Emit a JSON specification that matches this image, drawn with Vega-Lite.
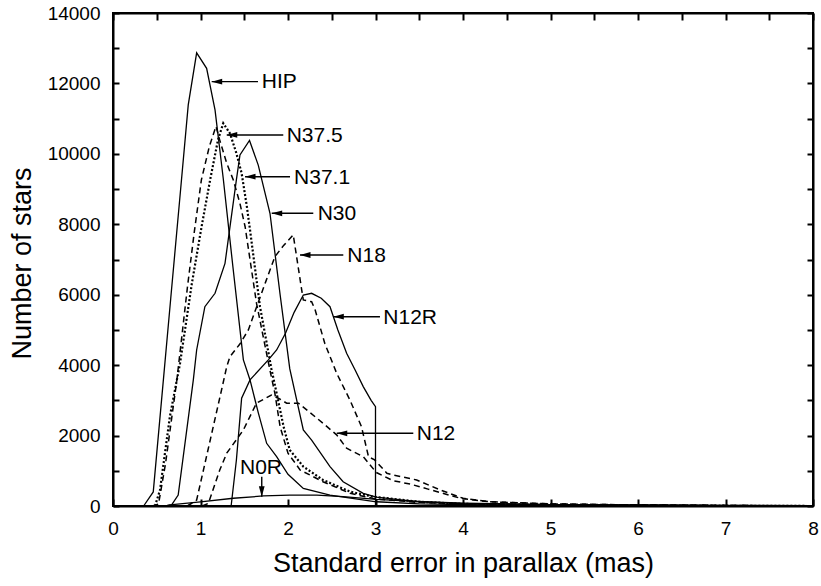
{
  "$schema": "https://vega.github.io/schema/vega-lite/v6.json",
  "width": 700,
  "height": 493,
  "autosize": "none",
  "padding": {"left": 113, "top": 13, "right": 8, "bottom": 80},
  "background": "white",
  "config": {
    "view": {"stroke": "black", "strokeWidth": 2},
    "font": "Liberation Sans"
  },
  "datasets": {
    "curves": [
      {"s":"HIP","x":0.35,"y":0},{"s":"HIP","x":0.46,"y":400},{"s":"HIP","x":0.56,"y":3150},{"s":"HIP","x":0.66,"y":5900},{"s":"HIP","x":0.76,"y":8640},{"s":"HIP","x":0.86,"y":11390},{"s":"HIP","x":0.956,"y":12870},{"s":"HIP","x":1.07,"y":12430},{"s":"HIP","x":1.166,"y":11250},{"s":"HIP","x":1.26,"y":9300},{"s":"HIP","x":1.37,"y":6800},{"s":"HIP","x":1.49,"y":4150},{"s":"HIP","x":1.566,"y":3580},{"s":"HIP","x":1.66,"y":2650},{"s":"HIP","x":1.756,"y":1780},{"s":"HIP","x":1.87,"y":1400},{"s":"HIP","x":2.0,"y":900},{"s":"HIP","x":2.175,"y":500},{"s":"HIP","x":2.48,"y":310},{"s":"HIP","x":3.01,"y":120},{"s":"HIP","x":3.5,"y":60},{"s":"HIP","x":4,"y":40},{"s":"HIP","x":5,"y":20},{"s":"HIP","x":6,"y":15},{"s":"HIP","x":7,"y":8},{"s":"HIP","x":8,"y":0},
      {"s":"N37.5","x":0.45,"y":0},{"s":"N37.5","x":0.52,"y":50},{"s":"N37.5","x":0.6,"y":1200},{"s":"N37.5","x":0.73,"y":3580},{"s":"N37.5","x":0.85,"y":6200},{"s":"N37.5","x":0.93,"y":7800},{"s":"N37.5","x":1.01,"y":9260},{"s":"N37.5","x":1.1,"y":10200},{"s":"N37.5","x":1.177,"y":10780},{"s":"N37.5","x":1.22,"y":10390},{"s":"N37.5","x":1.3,"y":9730},{"s":"N37.5","x":1.375,"y":9260},{"s":"N37.5","x":1.45,"y":8600},{"s":"N37.5","x":1.51,"y":7930},{"s":"N37.5","x":1.64,"y":5760},{"s":"N37.5","x":1.79,"y":3900},{"s":"N37.5","x":1.85,"y":3200},{"s":"N37.5","x":1.91,"y":2250},{"s":"N37.5","x":2.0,"y":1500},{"s":"N37.5","x":2.14,"y":1020},{"s":"N37.5","x":2.4,"y":690},{"s":"N37.5","x":2.71,"y":360},{"s":"N37.5","x":3.0,"y":200},{"s":"N37.5","x":3.5,"y":100},{"s":"N37.5","x":4,"y":60},{"s":"N37.5","x":5,"y":30},{"s":"N37.5","x":6,"y":15},{"s":"N37.5","x":7,"y":8},{"s":"N37.5","x":8,"y":0},
      {"s":"N37.1","x":0.48,"y":0},{"s":"N37.1","x":0.537,"y":450},{"s":"N37.1","x":0.65,"y":2540},{"s":"N37.1","x":0.766,"y":4050},{"s":"N37.1","x":0.9,"y":6300},{"s":"N37.1","x":1.01,"y":7900},{"s":"N37.1","x":1.11,"y":9260},{"s":"N37.1","x":1.2,"y":10400},{"s":"N37.1","x":1.26,"y":10870},{"s":"N37.1","x":1.337,"y":10580},{"s":"N37.1","x":1.41,"y":10020},{"s":"N37.1","x":1.47,"y":9450},{"s":"N37.1","x":1.53,"y":8500},{"s":"N37.1","x":1.566,"y":7840},{"s":"N37.1","x":1.68,"y":5660},{"s":"N37.1","x":1.81,"y":3900},{"s":"N37.1","x":1.87,"y":3200},{"s":"N37.1","x":1.95,"y":2250},{"s":"N37.1","x":2.02,"y":1590},{"s":"N37.1","x":2.175,"y":1120},{"s":"N37.1","x":2.4,"y":740},{"s":"N37.1","x":2.71,"y":406},{"s":"N37.1","x":2.97,"y":265},{"s":"N37.1","x":3.5,"y":120},{"s":"N37.1","x":4,"y":60},{"s":"N37.1","x":5,"y":30},{"s":"N37.1","x":6,"y":15},{"s":"N37.1","x":7,"y":8},{"s":"N37.1","x":8,"y":0},
      {"s":"N30","x":0.6,"y":0},{"s":"N30","x":0.67,"y":30},{"s":"N30","x":0.745,"y":310},{"s":"N30","x":0.918,"y":3580},{"s":"N30","x":0.956,"y":4430},{"s":"N30","x":1.05,"y":5660},{"s":"N30","x":1.166,"y":6040},{"s":"N30","x":1.28,"y":6890},{"s":"N30","x":1.41,"y":9260},{"s":"N30","x":1.451,"y":9970},{"s":"N30","x":1.56,"y":10380},{"s":"N30","x":1.66,"y":9680},{"s":"N30","x":1.794,"y":8313},{"s":"N30","x":1.91,"y":6000},{"s":"N30","x":2.02,"y":3900},{"s":"N30","x":2.175,"y":2160},{"s":"N30","x":2.27,"y":1870},{"s":"N30","x":2.48,"y":1120},{"s":"N30","x":2.63,"y":690},{"s":"N30","x":2.86,"y":360},{"s":"N30","x":3.01,"y":250},{"s":"N30","x":3.5,"y":120},{"s":"N30","x":4,"y":70},{"s":"N30","x":5,"y":40},{"s":"N30","x":6,"y":20},{"s":"N30","x":7,"y":10},{"s":"N30","x":8,"y":0},
      {"s":"N18","x":0.85,"y":0},{"s":"N18","x":0.956,"y":170},{"s":"N18","x":1.05,"y":1200},{"s":"N18","x":1.15,"y":2300},{"s":"N18","x":1.25,"y":3400},{"s":"N18","x":1.3,"y":3960},{"s":"N18","x":1.337,"y":4240},{"s":"N18","x":1.45,"y":4600},{"s":"N18","x":1.547,"y":5000},{"s":"N18","x":1.642,"y":5660},{"s":"N18","x":1.75,"y":6400},{"s":"N18","x":1.85,"y":7080},{"s":"N18","x":1.95,"y":7400},{"s":"N18","x":2.06,"y":7700},{"s":"N18","x":2.157,"y":6130},{"s":"N18","x":2.175,"y":5850},{"s":"N18","x":2.27,"y":5800},{"s":"N18","x":2.31,"y":5570},{"s":"N18","x":2.42,"y":4620},{"s":"N18","x":2.556,"y":3770},{"s":"N18","x":2.71,"y":3000},{"s":"N18","x":2.84,"y":2250},{"s":"N18","x":2.92,"y":1400},{"s":"N18","x":2.99,"y":1310},{"s":"N18","x":3.13,"y":930},{"s":"N18","x":3.2,"y":880},{"s":"N18","x":3.47,"y":740},{"s":"N18","x":3.74,"y":455},{"s":"N18","x":4.0,"y":220},{"s":"N18","x":4.3,"y":120},{"s":"N18","x":5,"y":60},{"s":"N18","x":6,"y":30},{"s":"N18","x":7,"y":15},{"s":"N18","x":8,"y":0},
      {"s":"N12","x":1.02,"y":0},{"s":"N12","x":1.09,"y":77},{"s":"N12","x":1.22,"y":1020},{"s":"N12","x":1.3,"y":1500},{"s":"N12","x":1.49,"y":2160},{"s":"N12","x":1.64,"y":2920},{"s":"N12","x":1.81,"y":3150},{"s":"N12","x":1.89,"y":3060},{"s":"N12","x":1.985,"y":2920},{"s":"N12","x":2.12,"y":2920},{"s":"N12","x":2.4,"y":2350},{"s":"N12","x":2.556,"y":2020},{"s":"N12","x":2.67,"y":1640},{"s":"N12","x":2.86,"y":1400},{"s":"N12","x":3.01,"y":950},{"s":"N12","x":3.2,"y":720},{"s":"N12","x":3.4,"y":620},{"s":"N12","x":3.6,"y":480},{"s":"N12","x":3.97,"y":220},{"s":"N12","x":4.3,"y":120},{"s":"N12","x":5,"y":60},{"s":"N12","x":6,"y":30},{"s":"N12","x":7,"y":15},{"s":"N12","x":8,"y":0},
      {"s":"N12R","x":1.35,"y":0},{"s":"N12R","x":1.41,"y":1300},{"s":"N12R","x":1.47,"y":3060},{"s":"N12R","x":1.566,"y":3580},{"s":"N12R","x":1.775,"y":4150},{"s":"N12R","x":1.87,"y":4430},{"s":"N12R","x":1.97,"y":4900},{"s":"N12R","x":2.07,"y":5500},{"s":"N12R","x":2.175,"y":5990},{"s":"N12R","x":2.27,"y":6040},{"s":"N12R","x":2.38,"y":5900},{"s":"N12R","x":2.48,"y":5660},{"s":"N12R","x":2.57,"y":5000},{"s":"N12R","x":2.67,"y":4340},{"s":"N12R","x":2.77,"y":3850},{"s":"N12R","x":2.86,"y":3390},{"s":"N12R","x":2.95,"y":3000},{"s":"N12R","x":3.0,"y":2820},{"s":"N12R","x":3.0,"y":0},
      {"s":"N0R","x":0.6,"y":0},{"s":"N0R","x":0.65,"y":30},{"s":"N0R","x":1.0,"y":120},{"s":"N0R","x":1.375,"y":220},{"s":"N0R","x":1.72,"y":285},{"s":"N0R","x":2.02,"y":310},{"s":"N0R","x":2.33,"y":310},{"s":"N0R","x":2.63,"y":265},{"s":"N0R","x":3.01,"y":190},{"s":"N0R","x":3.55,"y":120},{"s":"N0R","x":4,"y":80},{"s":"N0R","x":5,"y":40},{"s":"N0R","x":6,"y":30},{"s":"N0R","x":7,"y":20},{"s":"N0R","x":8,"y":10}
    ],
    "notes": [
      {"label":"HIP","tx":1.70,"ty":12030,"ax":1.657,"ay":12050,"bx":1.128,"by":12050,"dir":"left"},
      {"label":"N37.5","tx":1.985,"ty":10500,"ax":1.946,"ay":10536,"bx":1.30,"by":10536,"dir":"left"},
      {"label":"N37.1","tx":2.069,"ty":9320,"ax":2.023,"ay":9352,"bx":1.509,"by":9352,"dir":"left"},
      {"label":"N30","tx":2.339,"ty":8280,"ax":2.289,"ay":8313,"bx":1.814,"by":8313,"dir":"left"},
      {"label":"N18","tx":2.678,"ty":7100,"ax":2.632,"ay":7128,"bx":2.137,"by":7128,"dir":"left"},
      {"label":"N12R","tx":3.089,"ty":5350,"ax":3.051,"ay":5376,"bx":2.518,"by":5376,"dir":"left"},
      {"label":"N12","tx":3.471,"ty":2040,"ax":3.432,"ay":2065,"bx":2.557,"by":2065,"dir":"left"},
      {"label":"N0R","tx":1.451,"ty":1079,"ax":1.70,"ay":832,"bx":1.70,"by":264,"dir":"down"}
    ]
  },
  "layer": [
    {
      "data": {"name": "curves"},
      "transform": [{"filter": {"field": "s", "oneOf": ["HIP", "N30", "N12R", "N0R"]}}],
      "mark": {"type": "line", "color": "black", "strokeWidth": 1.3},
      "encoding": {
        "x": {"field": "x", "type": "quantitative",
              "scale": {"domain": [0, 8], "nice": false, "zero": false},
              "axis": {"orient": "bottom", "values": [0,0.5,1,1.5,2,2.5,3,3.5,4,4.5,5,5.5,6,6.5,7,7.5,8], "format": "d",
                       "labelExpr": "datum.value % 1 === 0 ? datum.label : ''", "labelOverlap": false, "labelFlush": false,
                       "domain": true, "domainColor": "black", "domainWidth": 2, "grid": false,
                       "tickSize": -7, "tickWidth": 2, "tickColor": "black",
                       "labelFontSize": 19, "labelPadding": 20, "labelColor": "black", "labelFont": "Liberation Sans",
                       "title": "Standard error in parallax  (mas)", "titleFont": "Liberation Sans", "titleFontWeight": "normal", "titleColor": "black",
                       "titleFontSize": 27, "titleY": 65, "titleBaseline": "alphabetic"}},
        "y": {"field": "y", "type": "quantitative",
              "scale": {"domain": [0, 14000], "nice": false},
              "axis": {"orient": "left", "values": [0,1000,2000,3000,4000,5000,6000,7000,8000,9000,10000,11000,12000,13000,14000], "format": "d",
                       "labelExpr": "datum.value % 2000 === 0 ? datum.label : ''", "labelOverlap": false, "labelFlush": false,
                       "domain": true, "domainColor": "black", "domainWidth": 2, "grid": false,
                       "tickSize": -6, "tickWidth": 2, "tickColor": "black",
                       "labelFontSize": 19, "labelPadding": 19, "labelColor": "black", "labelFont": "Liberation Sans",
                       "title": "Number of stars", "titleFont": "Liberation Sans", "titleFontWeight": "normal", "titleColor": "black",
                       "titleFontSize": 27, "titleX": -83, "titleY": 250, "titleBaseline": "alphabetic"}},
        "detail": {"field": "s"}
      }
    },
    {
      "data": {"name": "curves"},
      "transform": [{"filter": {"field": "s", "oneOf": ["N37.5", "N18", "N12"]}}],
      "mark": {"type": "line", "color": "black", "strokeWidth": 1.5, "strokeDash": [6, 4]},
      "encoding": {
        "x": {"field": "x", "type": "quantitative", "scale": {"domain": [0, 8], "nice": false, "zero": false}, "axis": null},
        "y": {"field": "y", "type": "quantitative", "scale": {"domain": [0, 14000], "nice": false}, "axis": null},
        "detail": {"field": "s"}
      }
    },
    {
      "data": {"name": "curves"},
      "transform": [{"filter": {"field": "s", "oneOf": ["N37.1"]}}],
      "mark": {"type": "line", "color": "black", "strokeWidth": 2.2, "strokeDash": [2, 2]},
      "encoding": {
        "x": {"field": "x", "type": "quantitative", "scale": {"domain": [0, 8], "nice": false, "zero": false}, "axis": null},
        "y": {"field": "y", "type": "quantitative", "scale": {"domain": [0, 14000], "nice": false}, "axis": null},
        "detail": {"field": "s"}
      }
    },
    {
      "data": {"name": "notes"},
      "mark": {"type": "rule", "color": "black", "strokeWidth": 1.4},
      "encoding": {
        "x": {"field": "ax", "type": "quantitative", "scale": {"domain": [0, 8], "nice": false, "zero": false},
              "axis": {"orient": "top", "values": [0,0.5,1,1.5,2,2.5,3,3.5,4,4.5,5,5.5,6,6.5,7,7.5,8], "labels": false, "domain": true, "domainColor": "black", "domainWidth": 2, "grid": false, "tickSize": -7, "tickWidth": 2, "tickColor": "black", "title": null}},
        "y": {"field": "ay", "type": "quantitative", "scale": {"domain": [0, 14000], "nice": false},
              "axis": {"orient": "right", "values": [0,1000,2000,3000,4000,5000,6000,7000,8000,9000,10000,11000,12000,13000,14000], "labels": false, "domain": true, "domainColor": "black", "domainWidth": 2, "grid": false, "tickSize": -6, "tickWidth": 2, "tickColor": "black", "title": null}},
        "x2": {"field": "bx"},
        "y2": {"field": "by"}
      }
    },
    {
      "data": {"name": "notes"},
      "mark": {"type": "point", "filled": true, "color": "black", "opacity": 1, "strokeWidth": 0},
      "encoding": {
        "x": {"field": "bx", "type": "quantitative", "scale": {"domain": [0, 8], "nice": false, "zero": false}, "axis": null},
        "y": {"field": "by", "type": "quantitative", "scale": {"domain": [0, 14000], "nice": false}, "axis": null},
        "shape": {"field": "dir", "type": "nominal", "legend": null,
                  "scale": {"domain": ["left", "down"], "range": ["M0,0L2,-0.55L2,0.55Z", "M0,0L-0.55,-2L0.55,-2Z"]}},
        "size": {"value": 110}
      }
    },
    {
      "data": {"name": "notes"},
      "mark": {"type": "text", "align": "left", "baseline": "middle", "fontSize": 21, "font": "Liberation Sans", "color": "black"},
      "encoding": {
        "x": {"field": "tx", "type": "quantitative", "scale": {"domain": [0, 8], "nice": false, "zero": false}, "axis": null},
        "y": {"field": "ty", "type": "quantitative", "scale": {"domain": [0, 14000], "nice": false}, "axis": null},
        "text": {"field": "label"}
      }
    }
  ],
  "resolve": {"axis": {"x": "independent", "y": "independent"}}
}
